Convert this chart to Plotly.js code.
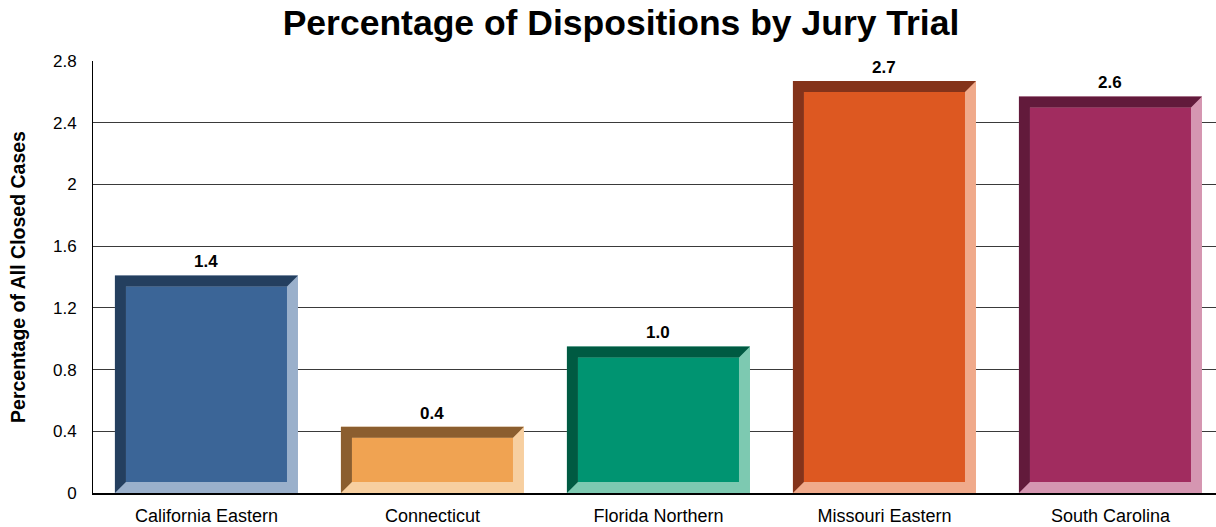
<!DOCTYPE html>
<html>
<head>
<meta charset="utf-8">
<script src="https://cdn.plot.ly/plotly-3.0.1.min.js"></script>
<style>html,body{margin:0;padding:0;background:#fff;}#chart{width:1216px;height:527px;}</style>
</head>
<body>
<div id="chart"></div>
<script>
const categories = ['California Eastern', 'Connecticut', 'Florida Northern', 'Missouri Eastern', 'South Carolina'];
const values = [1.41, 0.43, 0.95, 2.67, 2.57];
const valueLabels = ['1.4', '0.4', '1.0', '2.7', '2.6'];
const tickValues = [0, 0.4, 0.8, 1.2, 1.6, 2, 2.4, 2.8];
const tickLabels = ['0', '0.4', '0.8', '1.2', '1.6', '2', '2.4', '2.8'];
const faceColors = ['#3B6597', '#F0A352', '#009471', '#DD5821', '#A12C5F'];
const darkColors = ['#243F5F', '#8B5E2F', '#005A42', '#84331A', '#621A3B'];
const lightColors = ['#9AB0CB', '#F7CFA0', '#7DC9B1', '#F0AA8B', '#D596B1'];

const FONT = 'Liberation Sans, Arial, sans-serif';
const barW = 0.81;      // bar width in category units
const bevX = 0.0487;    // bevel depth (x units)
const bevY = 0.0713;    // bevel depth (y units)
const idx = categories.map((c, i) => i);

const traces = [];
// outer body (light bevel colour shows on right / bottom)
traces.push({
  type: 'bar', x: idx, y: values, width: barW,
  marker: {color: lightColors, line: {width: 0}},
  hoverinfo: 'skip', showlegend: false
});
// inner face
traces.push({
  type: 'bar', x: idx, y: values.map(v => v - 2 * bevY), base: values.map(() => bevY),
  width: barW - 2 * bevX,
  marker: {color: faceColors, line: {width: 0}},
  hoverinfo: 'skip', showlegend: false
});
// dark bevel (left / top)
values.forEach((v, i) => {
  const x0 = i - barW / 2, x1 = i + barW / 2;
  traces.push({
    type: 'scatter', mode: 'lines', fill: 'toself',
    x: [x0, x0, x1, x1 - bevX, x0 + bevX, x0 + bevX, x0],
    y: [0, v, v, v - bevY, v - bevY, bevY, 0],
    fillcolor: darkColors[i], line: {width: 0, color: darkColors[i]},
    hoverinfo: 'skip', showlegend: false
  });
});

const annotations = values.map((v, i) => ({
  x: i, y: v, xref: 'x', yref: 'y', text: valueLabels[i], showarrow: false,
  yanchor: 'bottom', yshift: 2,
  font: {family: FONT, size: 17, color: '#000', weight: 'bold'}
}));

const layout = {
  width: 1216, height: 527,
  paper_bgcolor: '#fff', plot_bgcolor: '#fff',
  margin: {l: 93, r: 0, t: 61, b: 34},
  barmode: 'overlay',
  showlegend: false,
  title: {
    text: '<b>Percentage of Dispositions by Jury Trial</b>',
    font: {family: FONT, size: 35.5, color: '#000'},
    x: 621 / 1216, xanchor: 'center', xref: 'container',
    y: 1 - 23 / 527, yanchor: 'middle', yref: 'container'
  },
  xaxis: {
    range: [-0.502, 4.467], tickmode: 'array', tickvals: idx, ticktext: categories,
    showgrid: false, zeroline: false, showline: true, linecolor: '#000', linewidth: 2,
    ticks: '', ticklabelstandoff: 5,
    tickfont: {family: FONT, size: 18, color: '#000'}, fixedrange: true
  },
  yaxis: {
    range: [0, 2.8], tickmode: 'array', tickvals: tickValues, ticktext: tickLabels,
    showgrid: true, gridcolor: '#3a3a3a', gridwidth: 1,
    zeroline: false, showline: true, linecolor: '#000', linewidth: 1,
    ticks: '', ticklabelstandoff: 12,
    tickfont: {family: FONT, size: 17, color: '#000'},
    title: {text: '<b>Percentage of All Closed Cases</b>', standoff: 22,
            font: {family: FONT, size: 19.5, color: '#000'}},
    automargin: false, fixedrange: true
  },
  annotations: annotations
};

Plotly.newPlot('chart', traces, layout, {displayModeBar: false, staticPlot: true});
</script>
</body>
</html>
